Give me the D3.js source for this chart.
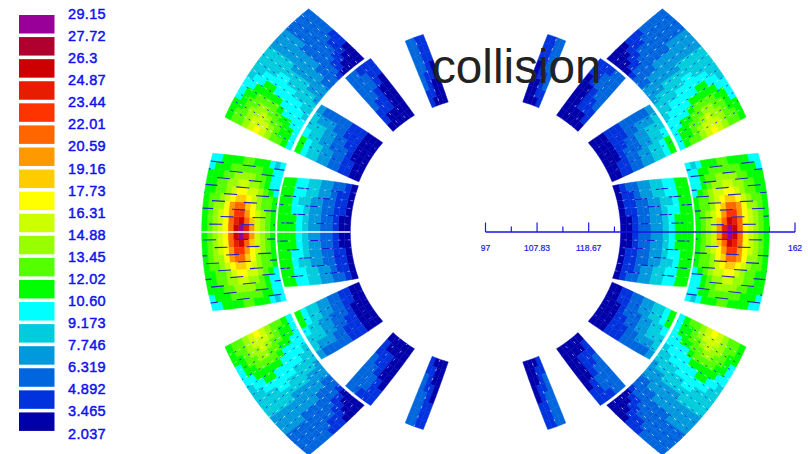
<!DOCTYPE html>
<html><head><meta charset="utf-8">
<style>html,body{margin:0;padding:0;background:#fff}svg{display:block}</style>
<script src="https://cdn.jsdelivr.net/npm/d3@7/dist/d3.min.js"></script>
</head><body><svg id="c" width="808" height="454"></svg>
<script>
const titleText = "collision";
const legendLabels = ["29.15","27.72","26.3","24.87","23.44","22.01","20.59","19.16","17.73","16.31","14.88","13.45","12.02","10.60","9.173","7.746","6.319","4.892","3.465","2.037"];
const legendValues = [29.15,27.72,26.3,24.87,23.44,22.01,20.59,19.16,17.73,16.31,14.88,13.45,12.02,10.60,9.173,7.746,6.319,4.892,3.465,2.037];
const legendColors = ["#990099","#b0002f","#cc0000","#e81c00","#ff3300","#ff6600","#ff9900","#ffcc00","#ffff00","#ccff00","#99ff00","#55ff00","#00ff00","#00ffff","#00ccdd","#0099dd","#0066dd","#0033dd","#0000aa"];
const axisDomain = [97,162];
const majorTicks = [97,107.83,118.67,129.5,140.33,151.17,162];
const minorTicks = [102.42,113.25,124.08,134.92,145.75,156.58];
const axisLabels = [["97",97],["107.83",107.83],["118.67",118.67],["162",162]];

// Block shape in axis units and degrees: rIn, rOut, start angle (in,out), end angle (in,out)
const shapeA = [44.2,59.6,0,0,19,16.1];
const shapeB = [44.4,59.8,22.7,23.8,55,51.6];
const shapeC = [28.4,43.7,0,0,20,15.2];
const shapeD = [28.6,43.6,21.6,22.9,41,37.8];
const shapeE = [28.7,43.7,47.4,47.7,58.7,56.5];
const shapeF = [28.4,43.5,66.8,67.2,74,72.5];

// Field values (T): rows from low to high angle, columns from inner to outer radius
const blockA = [
[11.3,12.7,14.2,15.6,19.9,24.2,28.4,25.6,21.3,17,15.6,14.2,12.7,11.3],
[11.3,12.7,14.2,15.6,18.4,21.3,25.6,24.2,21.3,17,15.6,14.2,12.7,11.3],
[11.3,12.7,14.2,15.6,17,19.9,22.7,22.7,19.9,17,15.6,14.2,12.7,11.3],
[11.3,12.7,12.7,14.2,17,18.4,21.3,21.3,19.9,17,14.2,14.2,12.7,11.3],
[11.3,12.7,12.7,14.2,15.6,17,18.4,18.4,17,15.6,14.2,12.7,12.7,11.3],
[9.9,11.3,12.7,14.2,15.6,15.6,17,17,15.6,14.2,12.7,12.7,11.3,11.3],
[9.9,9.9,11.3,12.7,14.2,14.2,15.6,15.6,14.2,14.2,12.7,12.7,11.3,11.3],
[9.9,9.9,11.3,12.7,12.7,14.2,14.2,14.2,14.2,12.7,12.7,11.3,11.3,11.3],
[9.9,9.9,11.3,11.3,12.7,12.7,12.7,12.7,12.7,12.7,11.3,11.3,11.3,9.9],
[9.9,8.5,9.9,11.3,11.3,11.3,12.7,12.7,11.3,11.3,11.3,11.3,9.9,9.9]];
const blockB = [
[9.9,11.3,12.7,12.7,14.2,15.6,17,15.6,14.2,12.7,12.7,11.3],
[9.9,11.3,11.3,12.7,14.2,15.6,15.6,15.6,14.2,12.7,12.7,11.3],
[9.9,11.3,11.3,12.7,12.7,14.2,15.6,14.2,14.2,12.7,11.3,11.3],
[9.9,9.9,11.3,11.3,12.7,12.7,14.2,14.2,12.7,12.7,11.3,9.9],
[9.9,9.9,9.9,9.9,11.3,12.7,12.7,12.7,12.7,11.3,11.3,9.9],
[8.5,9.9,9.9,9.9,9.9,11.3,11.3,11.3,11.3,11.3,9.9,9.9],
[8.5,8.5,9.9,9.9,9.9,9.9,9.9,11.3,11.3,9.9,9.9,8.5],
[8.5,8.5,8.5,8.5,9.9,9.9,9.9,9.9,9.9,9.9,8.5,8.5],
[7,8.5,8.5,8.5,8.5,8.5,9.9,9.9,8.5,8.5,8.5,8.5],
[7,7,7,8.5,8.5,8.5,8.5,8.5,8.5,8.5,8.5,8.5],
[7,7,7,7,7,7,7,8.5,8.5,8.5,8.5,8.5],
[5.6,5.6,7,7,7,7,7,7,7,7,7,7],
[5.6,5.6,5.6,5.6,7,7,7,7,7,7,7,7],
[4.2,5.6,5.6,5.6,5.6,5.6,5.6,5.6,7,7,7,7],
[2.7,4.2,4.2,5.6,5.6,5.6,5.6,5.6,5.6,5.6,5.6,5.6],
[2.7,2.7,4.2,4.2,5.6,5.6,5.6,5.6,5.6,5.6,5.6,5.6],
[2.7,2.7,2.7,4.2,4.2,4.2,5.6,5.6,5.6,5.6,5.6,5.6],
[2.7,2.7,2.7,2.7,4.2,4.2,4.2,5.6,5.6,5.6,5.6,5.6]];
const blockC = [
[2.7,2.7,4.2,5.6,5.6,7,7,8.5,9.9,11.3,11.3,11.3],
[2.7,2.7,4.2,5.6,5.6,7,7,8.5,9.9,11.3,11.3,11.3],
[2.7,4.2,4.2,5.6,5.6,7,7,8.5,9.9,9.9,11.3,11.3],
[2.7,4.2,4.2,5.6,5.6,7,7,8.5,8.5,9.9,11.3,11.3],
[2.7,4.2,4.2,5.6,7,7,8.5,8.5,9.9,9.9,11.3,11.3],
[2.7,4.2,5.6,5.6,7,7,8.5,8.5,9.9,9.9,11.3,11.3]];
const blockD = [
[2.7,2.7,4.2,4.2,5.6,5.6,7,7,8.5,8.5,9.9,11.3],
[2.7,2.7,4.2,4.2,5.6,5.6,7,7,8.5,8.5,9.9,11.3],
[2.7,2.7,2.7,4.2,5.6,5.6,5.6,7,7,8.5,8.5,9.9],
[2.7,2.7,2.7,4.2,4.2,5.6,5.6,7,7,8.5,8.5,8.5],
[2.7,2.7,2.7,4.2,4.2,4.2,5.6,5.6,7,7,7,8.5],
[2.7,2.7,2.7,4.2,4.2,4.2,5.6,5.6,5.6,5.6,5.6,7]];
const blockE = [
[2.7,4.2,4.2,5.6,5.6,5.6,5.6,5.6],
[2.7,2.7,4.2,4.2,5.6,5.6,5.6,5.6],
[2.7,2.7,4.2,4.2,4.2,5.6,5.6,4.2],
[2.7,2.7,2.7,2.7,2.7,4.2,4.2,4.2],
[2.7,2.7,2.7,2.7,2.7,2.7,4.2,4.2]];
const blockF = [
[4.2,4.2,5.6,5.6,5.6,5.6,5.6,5.6],
[2.7,4.2,4.2,4.2,5.6,5.6,5.6,5.6],
[2.7,2.7,2.7,4.2,4.2,4.2,4.2,4.2],
[2.7,2.7,2.7,2.7,2.7,4.2,4.2,4.2]];

const blocks = [
 {shape:shapeA,values:blockA,lines:10,blue:"#2424c8",blueDash:"13 19",blueW:1.1,white:0},
 {shape:shapeB,values:blockB,lines:15,blue:"#1414e0",blueDash:"2 8",blueW:0.8,white:0.85},
 {shape:shapeC,values:blockC,lines:6,blue:"#1414d8",blueDash:"12 22",blueW:1,white:0.5},
 {shape:shapeD,values:blockD,lines:5,blue:"#1414e0",blueDash:"2.5 6",blueW:0.8,white:0.35},
 {shape:shapeE,values:blockE,lines:3,blue:"#1414e0",blueDash:"2 12",blueW:0.7,white:0.7},
 {shape:shapeF,values:blockF,lines:2,blue:"#1414e0",blueDash:"2 14",blueW:0.7,white:0.7}];
const quadrants = [[-1,1],[-1,-1],[1,1],[1,-1]];

const svg = d3.select("#c");
const defs = svg.append("defs");
defs.append("filter").attr("id","soft").attr("x","-5%").attr("y","-5%").attr("width","110%").attr("height","110%")
  .append("feGaussianBlur").attr("stdDeviation",0.4);

const xAxis = d3.scaleLinear().domain(axisDomain).range([485.5,795]);
const cy = 232;
const rad = d3.scaleLinear().domain([0,axisDomain[1]-axisDomain[0]]).range([0,xAxis.range()[1]-xAxis.range()[0]]);
const toRad = d3.scaleLinear().domain([0,180]).range([0,Math.PI]);
const colorOf = d3.scaleThreshold().domain(legendValues.slice(1,19).reverse()).range(legendColors.slice().reverse());
const lerp = d3.interpolateNumber;
function pt(b,u,v,sx,sy){
  const [ri,ro,a1i,a1o,a2i,a2o]=b.shape;
  const r=rad(lerp(ri,ro)(u));
  const a=toRad(lerp(lerp(a1i,a1o)(u),lerp(a2i,a2o)(u))(v));
  return [xAxis(axisDomain[0])+sx*r*Math.cos(a), cy-sy*r*Math.sin(a)];
}
const lineGen = d3.line();

// ticks lie beneath the coil
const gTicks = svg.append("g");
const axMajor = d3.axisTop(xAxis).tickValues(majorTicks).tickSize(9.5).tickFormat("").offset(0);
const axMinor = d3.axisTop(xAxis).tickValues(minorTicks).tickSize(5.5).tickFormat("").offset(0);
[axMajor,axMinor].forEach(ax=>{
  const g=gTicks.append("g").attr("transform",`translate(0,${cy})`).call(ax);
  g.select(".domain").remove();
  g.selectAll("line").attr("stroke","#1a1ae6").attr("stroke-width",1.2);
});

const coil = svg.append("g").attr("filter","url(#soft)");
quadrants.forEach(([sx,sy])=>{
  blocks.forEach(b=>{
    const g=coil.append("g");
    const nr=b.values.length, nc=b.values[0].length;
    const cells=[];
    b.values.forEach((row,i)=>row.forEach((val,j)=>cells.push({i,j,val})));
    g.selectAll("path.cell").data(cells).join("path").attr("class","cell")
      .attr("d",d=>{
        const u0=d.j/nc,u1=(d.j+1)/nc,v0=d.i/nr,v1=(d.i+1)/nr;
        return lineGen([pt(b,u0,v0,sx,sy),pt(b,u1,v0,sx,sy),pt(b,u1,v1,sx,sy),pt(b,u0,v1,sx,sy)])+"Z";
      })
      .attr("fill",d=>colorOf(d.val)).attr("stroke",d=>colorOf(d.val)).attr("stroke-width",0.5);
    // conductor boundaries
    d3.range(1,b.lines).forEach(i=>{
      const s=pt(b,0,i/b.lines,sx,sy), e=pt(b,1,i/b.lines,sx,sy);
      const p=lineGen([s,e]);
      g.append("path").attr("d",p).attr("fill","none").attr("stroke",b.blue)
        .attr("stroke-width",b.blueW).attr("stroke-dasharray",b.blueDash).attr("stroke-dashoffset",i*11+(sx+sy)*3);
      if(b.white) g.append("path").attr("d",p).attr("fill","none").attr("stroke","#ffffff").attr("stroke-opacity",b.white)
        .attr("stroke-width",0.8).attr("stroke-dasharray","2.5 7.5").attr("stroke-dashoffset",i*11+(sx+sy)*3+5);
    });
  });
});
// midplane: white on the left half
coil.append("line").attr("x1",xAxis(97)-rad(59.6)).attr("x2",xAxis(97)-rad(28.4)).attr("y1",cy).attr("y2",cy)
  .attr("stroke","#fff").attr("stroke-width",1.4);

// axis baseline and its labels above the coil
svg.append("line").attr("x1",xAxis(97)).attr("x2",xAxis(162)).attr("y1",cy).attr("y2",cy).attr("stroke","#1414e6").attr("stroke-width",1.5);
svg.append("g").selectAll("text").data(axisLabels).join("text")
  .attr("x",d=>xAxis(d[1])).attr("y",250.5).attr("text-anchor","middle")
  .attr("font-family","Liberation Sans").attr("font-size",8.5)
  .attr("fill","#1a1ae6").attr("stroke","#1a1ae6").attr("stroke-width",0.2).text(d=>d[0]);

// legend
const yLegend = d3.scaleLinear().domain([0,19]).range([14.5,434]);
const lg = svg.append("g");
lg.selectAll("rect").data(legendColors).join("rect")
  .attr("x",19).attr("y",(d,i)=>yLegend(i)+0.5).attr("width",35.5).attr("height",18.5).attr("fill",d=>d);
lg.selectAll("text").data(legendLabels).join("text")
  .attr("x",68).attr("y",(d,i)=>yLegend(i)+4.5)
  .attr("font-family","Liberation Sans").attr("font-size",14.5).attr("letter-spacing",0.35)
  .attr("fill","#1010f0").attr("stroke","#1010f0").attr("stroke-width",0.45).text(d=>d);

svg.append("text").attr("x",432).attr("y",83).attr("font-family","Liberation Sans").attr("font-size",47.7)
  .attr("fill","#222222").text(titleText);
</script></body></html>
